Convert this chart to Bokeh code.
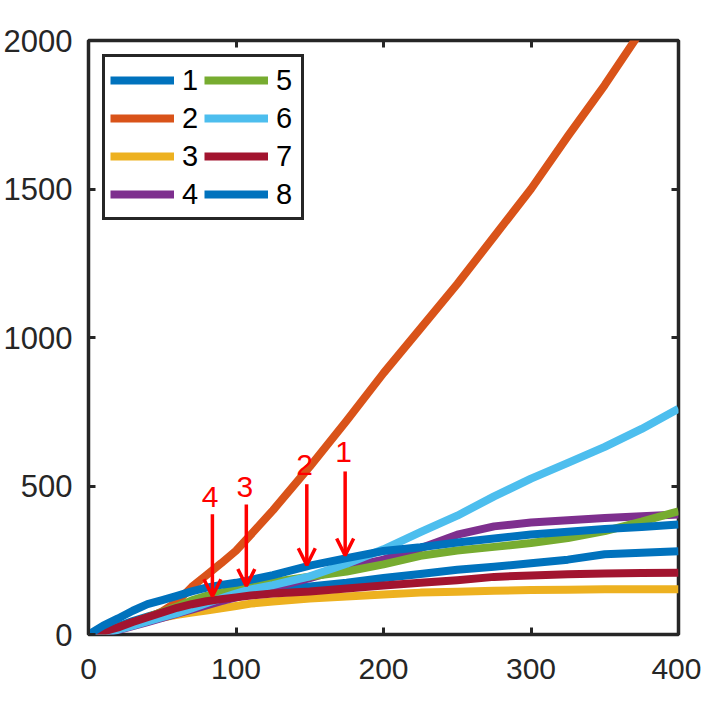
from bokeh.plotting import figure
from bokeh.models import FixedTicker, LinearAxis, Arrow, OpenHead, ColumnDataSource, Legend
from bokeh.embed import file_html
from bokeh.resources import INLINE
from bokeh.core.properties import value

x = [0, 10, 20, 30, 40, 50, 60, 70, 80, 90, 100, 110, 125, 150, 175, 200, 225, 250, 275, 300, 325, 350, 375, 400]

s1 = [0, 12, 28, 45, 60, 75, 88, 100, 112, 122, 132, 140, 150, 162, 174, 190, 204, 218, 228, 240, 252, 270, 275, 280]
s2 = [0, 8, 20, 36, 55, 78, 110, 160, 200, 240, 282, 336, 418, 565, 720, 880, 1030, 1180, 1340, 1500, 1678, 1850, 2035, 2200]
s3 = [0, 10, 22, 35, 47, 57, 66, 74, 81, 88, 96, 104, 111, 121, 128, 135, 141, 144, 147, 150, 151, 152, 152, 152]
s4 = [0, 5, 15, 28, 42, 56, 70, 84, 98, 112, 125, 138, 158, 190, 226, 252, 290, 336, 364, 377, 385, 392, 398, 404]
s5 = [0, 10, 24, 40, 58, 76, 94, 115, 130, 141, 152, 163, 177, 195, 212, 236, 265, 283, 295, 308, 325, 348, 380, 415]
s6 = [0, 5, 16, 30, 44, 58, 72, 88, 105, 122, 138, 152, 166, 196, 238, 287, 345, 400, 465, 525, 578, 632, 692, 760]
s7 = [0, 10, 24, 42, 58, 74, 90, 102, 112, 119, 125, 131, 138, 145, 155, 165, 174, 183, 194, 199, 203, 205, 207, 208]
s8 = [0, 30, 54, 80, 102, 116, 130, 145, 158, 167, 174, 184, 200, 232, 257, 281, 294, 310, 323, 337, 346, 355, 362, 370]

series = [s1, s2, s3, s4, s5, s6, s7, s8]
names = ["1", "2", "3", "4", "5", "6", "7", "8"]
colors = ["#0072BD", "#D95319", "#EDB120", "#7E2F8E", "#77AC30", "#4DBEEE", "#A2142F", "#0072BD"]

x_ticks = [0, 100, 200, 300, 400]
y_ticks = [0, 500, 1000, 1500, 2000]

arrow_labels = ["1", "2", "3", "4"]
arrow_x = [174, 148, 107, 84]
arrow_top = [549, 506, 438, 405]
arrow_tip = [266, 233, 163, 129]
label_x = [173, 146.5, 106, 82.5]
label_y = [615, 570, 496, 464]

FONT = "Liberation Sans"
DARK = "#262626"

p = figure(width=701, height=700, x_range=(0, 400), y_range=(0, 2000),
           output_backend="svg", toolbar_location=None,
           min_border_left=86, min_border_right=23, min_border_top=40, min_border_bottom=66)
p.background_fill_color = "white"
p.border_fill_color = "white"
p.grid.visible = False
p.outline_line_color = DARK
p.outline_line_alpha = 1
p.outline_line_width = 3.5

renderers = []
for s, c in zip(series, colors):
    r = p.line(x, s, line_color=c, line_width=8, line_join="round")
    renderers.append(r)

def style_axis(ax, ticks, show_labels=True, standoff=12, size="30px"):
    ax.ticker = FixedTicker(ticks=ticks)
    ax.axis_line_color = None
    ax.major_tick_in = 7
    ax.major_tick_out = 0
    ax.major_tick_line_color = DARK
    ax.major_tick_line_width = 3
    ax.minor_tick_line_color = None
    ax.major_label_standoff = standoff
    ax.major_label_text_font = FONT
    if show_labels:
        ax.major_label_text_color = DARK
        ax.major_label_text_font_size = size
    else:
        ax.major_label_text_color = None
        ax.major_label_text_font_size = "6px"

style_axis(p.xaxis[0], x_ticks, True, 24, "30px")
style_axis(p.yaxis[0], y_ticks, True, 16, "31px")

top_ax = LinearAxis()
right_ax = LinearAxis()
style_axis(top_ax, x_ticks, False, 0)
style_axis(right_ax, y_ticks, False, 0)
p.add_layout(top_ax, "above")
p.add_layout(right_ax, "right")

for i in range(len(arrow_labels)):
    p.add_layout(Arrow(end=OpenHead(size=17, line_color="red", line_width=3.5),
                       x_start=arrow_x[i], y_start=arrow_top[i],
                       x_end=arrow_x[i], y_end=arrow_tip[i],
                       line_color="red", line_width=3.5))

src = ColumnDataSource(dict(x=label_x, y=label_y, t=arrow_labels))
p.text(x="x", y="y", text="t", source=src, text_color="red", text_font=value(FONT),
       text_font_size="30px", text_align="center", text_baseline="middle")

legend = Legend(items=[(n, [r]) for n, r in zip(names, renderers)],
                location="top_left", nrows=4, ncols=2, orientation="vertical")
legend.border_line_color = DARK
legend.border_line_alpha = 1
legend.border_line_width = 3
legend.background_fill_color = "white"
legend.background_fill_alpha = 1
legend.label_text_font = FONT
legend.label_text_font_size = "29px"
legend.label_text_color = "black"
legend.glyph_width = 64
legend.glyph_height = 36
legend.label_height = 36
legend.label_standoff = 8
legend.padding = 5
legend.spacing = 2
legend.margin = 14
p.add_layout(legend, "center")

open("out.html", "w").write(file_html(p, INLINE))
